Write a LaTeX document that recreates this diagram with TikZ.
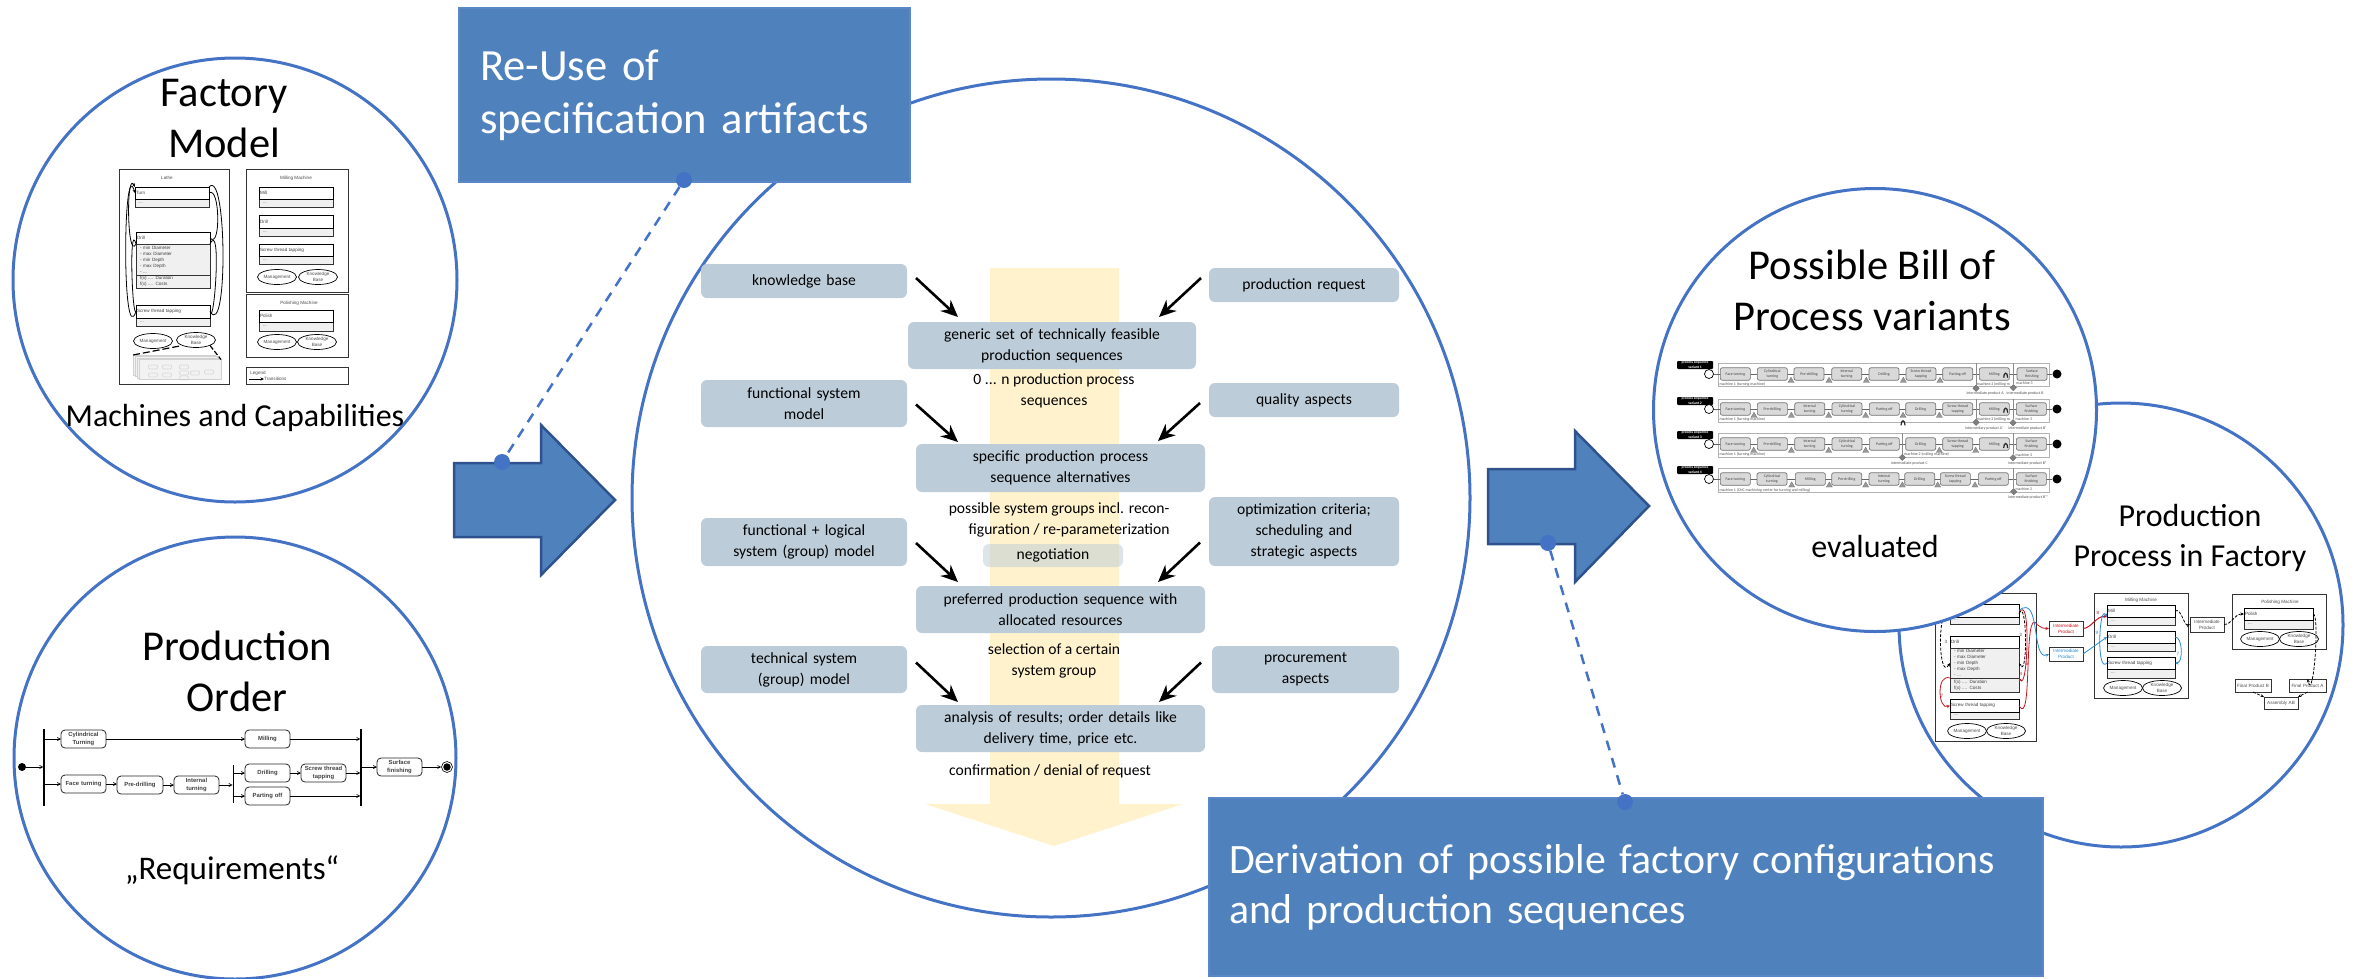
\documentclass[tikz,border=0pt]{standalone}
\usepackage{fontspec}
\setmainfont{Carlito}
\newfontfamily\umlfont{Liberation Sans}
\usetikzlibrary{arrows.meta, shapes.geometric, calc}
\definecolor{ringcolor}{RGB}{68, 114, 196}
\definecolor{bannercolor}{RGB}{79, 129, 189}
\definecolor{bannerline}{RGB}{91, 135, 200}
\definecolor{arrowline}{RGB}{47, 82, 143}
\definecolor{stepcolor}{RGB}{189, 204, 217}
\definecolor{flowcolor}{RGB}{255, 242, 204}
\definecolor{redflow}{RGB}{200, 20, 30}
\definecolor{blueflow}{RGB}{40, 140, 210}

% box given by its two corners, in pixels of the reference
\newcommand{\rbox}[7]{%
  \pgfmathsetmacro{\rboxw}{(#5)-(#3)}\pgfmathsetmacro{\rboxh}{(#6)-(#4)}%
  \node[#1, text width=\rboxw pt, minimum height=\rboxh pt, inner sep=0pt, outer sep=0pt, anchor=north west] (#2) at ({#3},{#4}) {#7};%
}
% capability box: name, x1, x2, y top, y split, y bottom, label
\newcommand{\capbox}[7]{%
  \rbox{capbody}{#1b}{#2}{#5}{#3}{#6}{\hspace*{4pt}...}%
  \rbox{caphead}{#1}{#2}{#4}{#3}{#5}{\hspace*{1pt}#7}%
}
% the two ellipses below the capabilities
\newcommand{\manknow}[5]{%
  \node[mkring] (#1man) at (#2,#3) {Management};%
  \node[mkring] (#1know) at (#4,#5) {Knowledge\\Base};%
}

\begin{document}
\begin{tikzpicture}[
    x=1pt, y=-1pt,
    ring/.style={circle, draw=ringcolor, fill=white, line width=3pt, inner sep=0pt},
    banner/.style={draw=bannerline, line width=1.5pt, fill=bannercolor, text=white, align=left},
    blockarrow/.style={draw=arrowline, line width=2.5pt, fill=bannercolor},
    pointer/.style={draw=ringcolor, line width=2.5pt, dash pattern=on 10pt off 8pt},
    pointdot/.style={circle, fill=ringcolor, minimum size=16pt, inner sep=0pt},
    head/.style={font=\fontsize{42.5}{51}\selectfont, align=center},
    subhead/.style={font=\fontsize{32}{40}\selectfont, align=center},
    stepbox/.style={rounded corners=6pt, fill=stepcolor, align=center, font=\fontsize{15.6}{21}\selectfont},
    steptext/.style={font=\fontsize{15.6}{21}\selectfont, align=center},
    feed/.style={-{Stealth[length=17pt,width=15pt]}, line width=2.6pt},
    % embedded model sketches
    machine/.style={draw=black!80, line width=0.8pt, fill=white, align=center, font=\umlfont\fontsize{4.6}{6}\selectfont, text=black!70},
    caphead/.style={draw=black, line width=0.8pt, fill=white, align=left, font=\umlfont\fontsize{4.6}{6}\selectfont, text=black!75},
    capbody/.style={draw=black!80, line width=0.8pt, fill=black!6, align=left, font=\umlfont\fontsize{4.6}{6}\selectfont, text=black!75},
    mkring/.style={ellipse, draw=black, line width=0.7pt, fill=white, minimum width=39pt, minimum height=15pt, inner sep=0pt, align=center, font=\umlfont\fontsize{4.6}{5.6}\selectfont, text=black!70},
    smalltext/.style={font=\umlfont\fontsize{4.6}{6}\selectfont, text=black!70, inner sep=0pt},
    modelflow/.style={-{Stealth[length=3.5pt,width=3pt]}, line width=0.8pt},
    dashflow/.style={modelflow, dash pattern=on 3pt off 1.5pt},
    % activity diagram
    action/.style={draw=black!85, line width=0.8pt, rounded corners=4pt, fill=white, align=center, font=\umlfont\bfseries\fontsize{5.9}{8}\selectfont, text=black!75},
    forkbar/.style={fill=black},
    actflow/.style={-{Straight Barb[length=3pt,width=3pt]}, line width=0.7pt},
    % bill of process rows
    rowframe/.style={draw=black!30, line width=0.8pt},
    procstep/.style={draw=black!55, fill=black!15, line width=0.7pt, rounded corners=2pt, minimum width=30pt, minimum height=12.5pt, inner sep=0pt, align=center, font=\fontsize{3.9}{5}\selectfont, text=black!75},
    rowtag/.style={fill=black, rounded corners=1pt, text=white, align=center, font=\bfseries\fontsize{3.7}{4.4}\selectfont},
    rowtext/.style={font=\fontsize{3.9}{5}\selectfont, text=black!70, inner sep=0pt},
    tri/.style={regular polygon, regular polygon sides=3, fill=black!40, draw=black!55, line width=0.3pt, minimum size=7pt, inner sep=0pt},
    dia/.style={diamond, fill=black!50, draw=black!60, line width=0.3pt, minimum size=6.5pt, inner sep=0pt}
]
\useasboundingbox (0,0) rectangle (2356,978);

% Factory model
\node[ring, minimum size=444pt] (factory) at (235,280) {};
\node[head] (factorytitle) at (224,119) {Factory\\Model};
\node[subhead] (machinestext) at (235,418) {Machines and Capabilities};

\rbox{machine}{lathe}{119}{169}{229}{384}{}
\rbox{machine}{milling}{246}{169}{348}{292}{}
\rbox{machine}{polishing}{246}{294}{348}{357}{}
\rbox{machine}{legend}{246}{367}{348}{384}{}
\node[smalltext] (lathename) at (167,178) {Lathe};
\node[smalltext] (millingname) at (296,178) {Milling Machine};
\node[smalltext] (polishingname) at (299,303) {Polishing Machine};
\node[smalltext] (legendname) at (258,373) {Legend};
\node[smalltext, anchor=west] (transitions) at (264,379) {Transitions};
\coordinate (legendtail) at (249,379);
\draw[modelflow] (legendtail) -- (transitions.west);

\capbox{fmturn}{135}{209}{187}{199}{207}{Turn}
\rbox{caphead}{fmdrill}{136}{232}{210}{244}{\hspace*{1pt}Drill}
\rbox{capbody}{fmattr}{136}{244}{210}{275}{\hspace*{4pt}- min Diameter\\\hspace*{4pt}- max Diameter\\\hspace*{4pt}- min Depth\\\hspace*{4pt}- max Depth\\\hspace*{4pt}- ...}
\rbox{capbody}{fmops}{136}{275}{210}{288}{\hspace*{4pt}f(x) .... Duration\\\hspace*{4pt}f(x) .... Costs}
\capbox{fmscrew}{136}{210}{305}{318}{326}{Screw thread tapping}
\manknow{fm}{153}{341}{196}{340}

% sheets below the knowledge base
\foreach \i in {0, 1, 2, 3} {
    \rbox{draw=black!18, fill=black!5, line width=0.4pt}{sheet\i}{\i*2+133}{\i*1.5+355}{\i*2+215}{\i*1.5+375}{}
}
\foreach \xx/\yy in {153/367, 167/367, 184/367, 153/375, 167/375, 184/373, 195/373, 184/378, 209/372} {
    \node[draw=black!30, rounded corners=1pt, line width=0.3pt, minimum width=9pt, minimum height=4pt, inner sep=0pt] at (\xx,\yy) {};
}
\draw[line width=1.2pt, dash pattern=on 7pt off 3pt] (sheet0.north west) -- (fmknow.south west);
\draw[line width=1.2pt, dash pattern=on 5pt off 2pt] (fmknow.south east) -- (sheet3.north east);

\draw[modelflow] (fmscrew.west) .. controls ([xshift=-14pt, yshift=-40pt]fmscrew.west) and ([xshift=-12pt, yshift=40pt]fmturn.west) .. (fmturn.west);
\draw[modelflow] (fmattr.north west) .. controls ([xshift=-9pt, yshift=-18pt]fmattr.north west) and ([xshift=-9pt, yshift=18pt]fmturn.north west) .. (fmturn.north west);
\draw[line width=0.8pt] (fmattr.north west) .. controls ([xshift=-7pt, yshift=25pt]fmattr.north west) and ([xshift=-4pt, yshift=-12pt]fmscrew.north west) .. (fmscrew.west);
\draw[line width=0.8pt] (fmturn.east) .. controls ([xshift=11pt, yshift=8pt]fmturn.east) and ([xshift=11pt, yshift=-12pt]fmdrill.east) .. (fmdrill.east);
\draw[line width=0.8pt] (fmturn.north east) .. controls ([xshift=18pt, yshift=20pt]fmturn.north east) and ([xshift=18pt, yshift=-30pt]fmscrew.east) .. (fmscrew.east);
\draw[line width=0.8pt] (fmattr.north east) .. controls ([xshift=12pt, yshift=25pt]fmattr.north east) and ([xshift=4pt, yshift=-18pt]fmscrew.east) .. (fmscrew.east);

\capbox{fmmill}{259}{333}{187}{199}{207}{Mill}
\capbox{fmmdrill}{259}{333}{215}{228}{236}{Drill}
\capbox{fmmscrew}{259}{333}{244}{256}{264}{Screw thread tapping}
\manknow{fmm}{277}{277}{318}{277}
\capbox{fmpolish}{259}{333}{310}{322}{331}{Polish}
\manknow{fmp}{277}{342}{317}{342}

% Production order
\node[ring, minimum size=442pt] (order) at (235,758) {};
\node[head] (ordertitle) at (237,671) {Production\\Order};
\node[subhead, font=\fontsize{33}{40}\selectfont] (requirements) at (232,870) {„Requirements“};

\node[circle, fill=black, minimum size=8pt, inner sep=0pt] (postart) at (22,767) {};
\node[circle, fill=black, minimum size=7.5pt, inner sep=0pt] (poend) at (447,767) {};
\node[circle, draw=black, line width=0.6pt, minimum size=11pt, inner sep=0pt] (poendring) at (447,767) {};
\rbox{forkbar}{pobara}{43.4}{729}{44.6}{806}{}
\rbox{forkbar}{pobarb}{232.6}{765}{233.8}{803}{}
\rbox{forkbar}{pobarc}{360.4}{729}{361.6}{806}{}
\rbox{action}{pocyl}{61}{730}{106}{748}{Cylindrical\\Turning}
\rbox{action}{pomill}{245}{730}{290}{748}{Milling}
\rbox{action}{poface}{61}{775}{106}{793}{Face turning}
\rbox{action}{popre}{117}{776}{163}{794}{Pre-drilling}
\rbox{action}{point}{174}{776}{219}{794}{Internal\\turning}
\rbox{action}{podrill}{245}{764}{290}{782}{Drilling}
\rbox{action}{poscrew}{301}{764}{346}{782}{Screw thread\\tapping}
\rbox{action}{popart}{245}{787}{290}{805}{Parting off}
\rbox{action}{posurf}{377}{758}{422}{776}{Surface\\finishing}

\draw[actflow] (postart) -- (postart -| pobara.west);
\foreach \nn in {pocyl, poface} {
    \draw[actflow] (pobara.east |- \nn.west) -- (\nn.west);
}
\foreach \nn in {podrill, popart} {
    \draw[actflow] (pobarb.east |- \nn.west) -- (\nn.west);
}
\foreach \nn in {pomill, poscrew, popart} {
    \draw[actflow] (\nn.east) -- (\nn.east -| pobarc.west);
}
\foreach \aa/\bb in {pocyl/pomill, poface/popre, popre/point, podrill/poscrew} {
    \draw[actflow] (\aa.east) -- (\aa.east -| \bb.west);
}
\draw[actflow] (point.east) -- (point.east -| pobarb.west);
\draw[actflow] (pobarc.east |- posurf.west) -- (posurf.west);
\draw[actflow] (posurf.east) -- (poendring.west);

% Main circle and flow
\node[ring, minimum size=838pt] (mainring) at (1051,498) {};
\fill[flowcolor] (990,268) -- (1119,268) -- (1119,804) -- (1183,804) -- (1054,846) -- (925,804) -- (990,804) -- cycle;

\rbox{stepbox}{knowledge}{701}{264}{907}{298}{knowledge base}
\rbox{stepbox}{request}{1209}{268}{1399}{302}{production request}
\rbox{stepbox}{generic}{908}{322}{1196}{369}{generic set of technically feasible\\production sequences}
\rbox{stepbox}{functional}{701}{380}{907}{427}{functional system\\model}
\rbox{stepbox}{quality}{1209}{383}{1399}{417}{quality aspects}
\rbox{stepbox}{specific}{916}{444}{1205}{492}{specific production process\\sequence alternatives}
\rbox{stepbox}{logical}{701}{518}{907}{566}{functional + logical\\system (group) model}
\rbox{stepbox}{optimization}{1209}{497}{1399}{566}{optimization criteria;\\scheduling and\\strategic aspects}
\rbox{stepbox}{preferred}{916}{586}{1205}{633}{preferred production sequence with\\allocated resources}
\rbox{stepbox}{technical}{701}{646}{907}{693}{technical system\\(group) model}
\rbox{stepbox}{procurement}{1212}{646}{1399}{693}{procurement\\aspects}
\rbox{stepbox}{analysis}{916}{705}{1205}{752}{analysis of results; order details like\\delivery time, price etc.}
\rbox{stepbox, fill opacity=0.5, text opacity=1}{negotiation}{983}{544}{1123}{567}{negotiation}

\node[steptext] (sequences) at (1054,391) {0 ... n production process\\sequences};
\node[steptext, align=right, anchor=east] (groups) at (1173,520) {possible system groups incl. recon-\\figuration / re-parameterization};
\node[steptext] (selection) at (1054,661) {selection of a certain\\system group};
\node[steptext] (confirmation) at (1050,771) {confirmation / denial of request};

\draw[feed] ([shift={(9,-3)}]knowledge.east) -- ([shift={(50,-5)}]generic.north west);
\draw[feed] ([shift={(-8,-7)}]request.west) -- ([shift={(-37,-5)}]generic.north east);
\draw[feed] ([shift={(9,1)}]functional.east) -- ([shift={(42,-2)}]specific.north west);
\draw[feed] ([shift={(-9,3)}]quality.west) -- ([shift={(-47,-3)}]specific.north east);
\draw[feed] ([shift={(9,1)}]logical.east) -- ([shift={(42,-4)}]preferred.north west);
\draw[feed] ([shift={(-9,11)}]optimization.west) -- ([shift={(-47,-4)}]preferred.north east);
\draw[feed] ([shift={(9,-7)}]technical.east) -- ([shift={(42,-3)}]analysis.north west);
\draw[feed] ([shift={(-11,-7)}]procurement.west) -- ([shift={(-46,-3)}]analysis.north east);

% Production process in factory
\node[ring, minimum size=444pt] (process) at (2121,625) {};
\node[subhead] (processtitle) at (2190,538) {Production\\Process in Factory};

\rbox{machine}{pplathe}{1935}{593}{2036}{741}{}
\capbox{ppturn}{1950}{2019}{604}{617}{624}{}
\rbox{caphead}{ppdrill}{1950}{636}{2019}{648}{\hspace*{1pt}Drill}
\rbox{capbody}{ppattr}{1950}{648}{2019}{678}{\hspace*{4pt}- min Diameter\\\hspace*{4pt}- max Diameter\\\hspace*{4pt}- min Depth\\\hspace*{4pt}- max Depth\\\hspace*{4pt}- ...}
\rbox{capbody}{ppops}{1950}{678}{2019}{692}{\hspace*{4pt}f(x) .... Duration\\\hspace*{4pt}f(x) .... Costs}
\capbox{ppscrew}{1950}{2019}{699}{712}{719}{Screw thread tapping}
\manknow{pp}{1967}{731}{2006}{731}

\rbox{machine}{ppmilling}{2094}{593}{2188}{698}{}
\node[smalltext] (ppmillingname) at (2141,600) {Milling Machine};
\capbox{ppmill}{2107}{2175}{605}{617}{625}{Mill}
\capbox{ppmdrill}{2107}{2175}{631}{643}{651}{Drill}
\capbox{ppmscrew}{2107}{2175}{657}{669}{678}{Screw thread tapping}
\manknow{ppm}{2123}{688}{2162}{688}

\rbox{machine}{pppolishing}{2232}{594}{2326}{649}{}
\node[smalltext] (pppolishingname) at (2280,602) {Polishing Machine};
\capbox{pppolish}{2244}{2313}{608}{620}{629}{Polish}
\manknow{ppq}{2260}{639}{2299}{639}

\rbox{machine, text=redflow}{iprod}{2049}{621}{2083}{636}{Intermediate\\Product}
\rbox{machine, text=blueflow}{iprob}{2049}{647}{2083}{661}{Intermediate\\Product}
\rbox{machine}{iprok}{2190}{617}{2224}{632}{Intermediate\\Product}
\rbox{machine}{finalb}{2235}{679}{2271}{692}{Final Product B}
\rbox{machine}{finala}{2289}{679}{2326}{692}{Final Product A}
\rbox{machine}{assembly}{2264}{697}{2298}{709}{Assembly AB}

\draw[modelflow, redflow] ([yshift=-3pt]ppturn.east) .. controls ([xshift=12pt, yshift=22pt]ppturn.east) and ([xshift=9pt, yshift=-15pt]ppops.north east) .. (ppops.north east);
\draw[modelflow, redflow] (ppscrew.east) .. controls ([xshift=14pt, yshift=-25pt]ppscrew.east) and ([xshift=-26pt, yshift=25pt]iprod.west) .. ([xshift=-12pt, yshift=4pt]iprod.west) .. controls ([xshift=-6pt]iprod.west) .. (iprod.west);
\draw[modelflow, blueflow] (ppturn.east) .. controls ([xshift=22pt, yshift=18pt]ppturn.east) and ([xshift=-18pt, yshift=-8pt]iprob.west) .. (iprob.west);
\draw[dashflow] ([yshift=-3pt]ppturn.west) .. controls ([xshift=-13pt, yshift=10pt]ppturn.west) and ([xshift=-12pt, yshift=-20pt]ppattr.west) .. (ppattr.west);
\draw[dashflow] ([yshift=-3pt]ppturn.east) .. controls ([xshift=8pt, yshift=15pt]ppturn.east) and ([xshift=9pt, yshift=-18pt]ppattr.east) .. (ppattr.east);
\draw[modelflow, redflow] (ppops.north west) .. controls ([xshift=-14pt, yshift=5pt]ppops.north west) and ([xshift=-12pt, yshift=-5pt]ppscrew.west) .. (ppscrew.west);
\draw[modelflow, redflow, line width=1pt] (iprod.east) .. controls ([xshift=8pt]iprod.east) and ([xshift=-10pt, yshift=2pt]ppmill.south west) .. (ppmill.south west);
\draw[modelflow, blueflow] (iprob.east) -- (ppmdrill.west);
\draw[modelflow, blueflow] (ppmscrew.west) .. controls ([xshift=-11pt, yshift=-12pt]ppmscrew.west) and ([xshift=-8pt, yshift=15pt]ppmill.south west) .. (ppmill.south west);
\draw[modelflow, blueflow] (ppmdrill.east) .. controls ([xshift=8pt]ppmdrill.east) and ([xshift=8pt]ppmscrew.east) .. (ppmscrew.east);
\draw[dashflow] (ppmill.east) .. controls ([xshift=6pt, yshift=4pt]ppmill.east) and ([xshift=-6pt, yshift=-2pt]iprok.west) .. (iprok.west);
\draw[dashflow] (iprok.east) .. controls ([xshift=8pt]iprok.east) and ([xshift=-10pt]pppolish.west) .. (pppolish.west);
\draw[dashflow] (pppolish.east) .. controls ([xshift=7pt, yshift=2pt]pppolish.east) and ([xshift=6pt, yshift=-25pt]finala.north) .. (finala.north);
\draw[dashflow] (finalb.south) -- (assembly.north west);
\draw[dashflow] (finala.south) -- (assembly.north east);
\foreach \xx/\yy/\nr/\tc in {1946/642/3/black!70, 2021/635/2/black!70, 2027/664/6/redflow, 2021/674/4/redflow, 1942/696/7/redflow, 2098/613/8/redflow, 2097/633/9/blueflow, 2178/654/7/blueflow} {
    \node[smalltext, text=\tc] at (\xx,\yy) {\nr};
}

% Possible bill of process variants
\node[ring, minimum size=443pt] (bill) at (1875,410) {};
\node[head] (billtitle) at (1872,290) {Possible Bill of\\Process variants};
\node[subhead] (evaluated) at (1875,546) {evaluated};

\foreach \r/\ya/\yt/\yb/\items in {
    1/374/363/386/{226/Face turning, 337/Cylindrical\\turning, 447/Pre-drilling, 560/Internal\\turning, 672/Drilling, 783/Screw thread\\tapping, 893/Parting off, 1003/Milling, 1116/Surface\\finishing},
    2/409/399/422/{226/Face turning, 337/Pre-drilling, 449/Internal\\turning, 561/Cylindrical\\turning, 673/Parting off, 782/Drilling, 893/Screw thread\\tapping, 1003/Milling, 1114/Surface\\finishing},
    3/444/433/457/{226/Face turning, 337/Pre-drilling, 449/Internal\\turning, 561/Cylindrical\\turning, 673/Parting off, 782/Drilling, 893/Screw thread\\tapping, 1003/Milling, 1114/Surface\\finishing},
    4/479/468/492/{226/Face turning, 336/Cylindrical\\turning, 451/Milling, 560/Pre-drilling, 672/Internal\\turning, 779/Drilling, 886/Screw thread\\tapping, 1000/Parting off, 1114/Surface\\finishing}} {
    \rbox{rowframe}{frame\r}{1718}{\yt}{2049}{\yb}{}
    \node[rowtag, minimum width=36pt, minimum height=8pt, inner sep=0pt] (tag\r) at (1695,\yt+2) {process sequence\\variant \r};
    \node[circle, draw=black, line width=0.7pt, fill=white, minimum size=9pt, inner sep=0pt] (start\r) at (1709,\ya) {};
    \node[circle, fill=black, minimum size=9pt, inner sep=0pt] (stop\r) at (2057,\ya) {};
    \draw[line width=0.7pt, black!60] (start\r) -- (stop\r);
    \foreach \xx/\nm in \items {
        \node[procstep] (proc\r\xx) at ({1660+\xx/3},\ya) {\nm};
    }
}

% triangles, diamonds and separators
\foreach \xx/\yy in {393/122, 507/122, 619/122, 730/122, 840/122, 282/227, 394/227, 506/227, 617/227, 729/227, 838/227, 281/332, 394/332, 506/332, 617/332, 838/332, 947/332, 395/436, 508/436, 617/436, 727/436, 833/436, 945/436} {
    \node[tri] at ({1660+\xx/3},{340+\yy/3}) {};
}
\foreach \r/\xx/\yy in {1/948/145, 1/1060/143, 2/948/247, 2/1059/248, 3/727/352, 3/1059/353, 4/1061/455} {
    \node[dia] (sep\r\xx) at ({1660+\xx/3},{340+\yy/3}) {};
    \draw[black!45, line width=0.6pt] (sep\r\xx) -- (sep\r\xx |- frame\r.north);
}
\foreach \xx/\yy in {1037/107, 1037/212, 729/250, 1037/318} {
    \draw[line width=1.2pt, black!85] ({1660+\xx/3-2},{340+\yy/3+2}) .. controls ({1660+\xx/3-2},{340+\yy/3-4}) and ({1660+\xx/3+2},{340+\yy/3-4}) .. ({1660+\xx/3+2},{340+\yy/3+2});
}
\foreach \xx/\yy/\lab in {178/132/{machine 1 (turning machine)}, 950/132/{machine 2 (milling m}, 1068/130/{machine 3}, 178/239/{machine 1 (turning machine)}, 950/239/{machine 2 (milling m}, 1066/238/{machine 3}, 178/344/{machine 1 (turning machine)}, 732/344/{machine 2 (milling machine)}, 1066/344/{machine 3}, 178/450/{machine 1 (CNC machining center for turning and milling)}, 1066/448/{machine 2}} {
    \node[rowtext, anchor=west] at ({1660+\xx/3},{340+\yy/3}) {\lab};
}
\foreach \xx/\yy/\lab in {975/160/{intermediate product A}, 1095/160/{intermediate product B}, 972/265/{intermediary product A'}, 1102/265/{intermediate product B'}, 748/370/{intermediate product C}, 1102/370/{intermediate product B''}, 1104/473/{intermediate product B'''}} {
    \node[rowtext] at ({1660+\xx/3},{340+\yy/3}) {\lab};
}

% Block arrows
\draw[blockarrow] (454,463) -- (541,463) -- (541,425) -- (615,500) -- (541,575) -- (541,537) -- (454,537) -- cycle;
\draw[blockarrow] (1488,469) -- (1575,469) -- (1575,431) -- (1649,506) -- (1575,582) -- (1575,544) -- (1488,544) -- cycle;

% Banners
\rbox{banner, font=\fontsize{44.6}{53}\selectfont}{reuse}{459}{8}{910}{182}{\hspace*{21pt}Re-Use of\\\hspace*{21pt}specification artifacts\\[2pt]}
\rbox{banner, font=\fontsize{41.8}{50}\selectfont}{derivation}{1209}{798}{2043}{976}{\hspace*{20pt}Derivation of possible factory configurations\\\hspace*{20pt}and production sequences}

% Pointers
\node[pointdot] (reusetop) at (684,180) {};
\node[pointdot] (reusearrow) at (502,462) {};
\draw[pointer] (reusetop) -- (reusearrow);
\node[pointdot] (derivationtop) at (1625,802) {};
\node[pointdot] (derivationarrow) at (1548,543) {};
\draw[pointer] (derivationarrow) -- (derivationtop);

\end{tikzpicture}
\end{document}
